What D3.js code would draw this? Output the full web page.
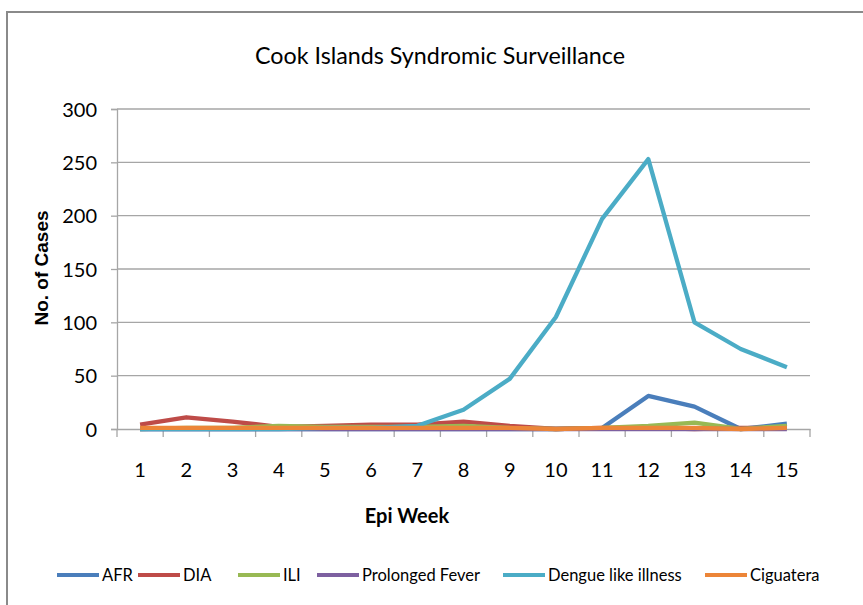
<!DOCTYPE html>
<html><head><meta charset="utf-8">
<script src="https://cdn.jsdelivr.net/npm/d3@7"></script>
<style>body{margin:0;background:#fff}svg{display:block}</style>
</head><body>
<script>
const weeks = [1,2,3,4,5,6,7,8,9,10,11,12,13,14,15];
const yTicks = [0,50,100,150,200,250,300];
const seriesNames = ["AFR","DIA","ILI","Prolonged Fever","Dengue like illness","Ciguatera"];
const afr = [0,0,0,0,0,0,0,0,0,0,1,31,21,0,5];
const dia = [4,11,7,2,3,4,4,7,3,0,1,1,0,1,1];
const ili = [0,1,1,3,2,2,2,3,1,0,1,3,6,0,3];
const prolonged = [0,0,0,0,0,0,0,0,0,0,0,0,0,0,0];
const dengue = [0,0,0,0,1,1,3,18,47,105,197,253,100,75,58];
const ciguatera = [1,1,1,1,1,1,1,1,1,0,1,1,1,0,1];
const colors = ["#4A7EBB","#BE4B48","#98B954","#7D60A0","#4BACC6","#EC8538"];
const seriesData = [afr,dia,ili,prolonged,dengue,ciguatera];

const W=863,H=605;
const svg=d3.select("body").append("svg").attr("width",W).attr("height",H);
const font="Lato,'Noto Sans',sans-serif";
svg.append("rect").attr("x",7).attr("y",12).attr("width",900).attr("height",700)
  .attr("fill","#fff").attr("stroke","#8a8a8a").attr("stroke-width",2);

const x=d3.scaleBand().domain(weeks).range([117,810]);
const y=d3.scaleLinear().domain([0,300]).range([429,109]);

svg.append("text").attr("x",440).attr("y",64).attr("text-anchor","middle")
  .attr("font-family",font).attr("font-size",24).attr("fill","#000")
  .attr("textLength",370).attr("lengthAdjust","spacingAndGlyphs")
  .text("Cook Islands Syndromic Surveillance");

// gridlines
svg.append("g").selectAll("line").data(yTicks.filter(d=>d>0)).join("line")
  .attr("x1",117).attr("x2",810).attr("y1",d=>y(d)).attr("y2",d=>y(d))
  .attr("stroke","#a6a6a6").attr("stroke-width",1.3);

const yAxis=svg.append("g").attr("transform","translate(117,0)")
  .call(d3.axisLeft(y).tickValues(yTicks).tickSize(6).tickPadding(14));
yAxis.select(".domain").attr("stroke","#a6a6a6").attr("stroke-width",1.3);
yAxis.selectAll(".tick line").attr("stroke","#a6a6a6").attr("stroke-width",1.3);
yAxis.selectAll("text").attr("font-family",font).attr("font-size",20).attr("fill","#000")
  .attr("dy","0.36em");

const xAxis=svg.append("g").attr("transform","translate(0,429)")
  .call(d3.axisBottom(x).tickSize(0).tickPadding(34));
xAxis.select(".domain").attr("stroke","#a6a6a6").attr("stroke-width",1.3);
xAxis.selectAll("text").attr("font-family",font).attr("font-size",20).attr("fill","#000");
// boundary ticks
const bounds=weeks.map(w=>x(w)).concat([x(15)+x.bandwidth()]);
svg.append("g").selectAll("line").data(bounds).join("line")
  .attr("x1",d=>d).attr("x2",d=>d).attr("y1",429).attr("y2",437)
  .attr("stroke","#a6a6a6").attr("stroke-width",1.3);

svg.append("text").attr("x",407).attr("y",523).attr("text-anchor","middle")
  .attr("font-family",font).attr("font-weight","bold").attr("font-size",20)
  .text("Epi Week");
svg.append("text").attr("transform","translate(48,268) rotate(-90)").attr("text-anchor","middle")
  .attr("font-family","'Liberation Sans',Arial,sans-serif").attr("font-weight","bold").attr("font-size",19)
  .text("No. of Cases");

const line=d3.line().x((d,i)=>x(weeks[i])+x.bandwidth()/2).y(d=>y(d));
svg.append("g").selectAll("path").data(seriesData).join("path")
  .attr("d",d=>line(d)).attr("fill","none").attr("stroke",(d,i)=>colors[i])
  .attr("stroke-width",4.3).attr("stroke-linejoin","round");

// legend
const legX=[57,138,238,317,503,705];
const lg=svg.append("g").selectAll("g").data(seriesNames).join("g")
  .attr("transform",(d,i)=>`translate(${legX[i]},575)`);
lg.append("line").attr("x1",0).attr("x2",42).attr("stroke",(d,i)=>colors[i]).attr("stroke-width",4);
lg.append("text").attr("x",45).attr("y",6).attr("font-family",font).attr("font-size",16.5)
  .text(d=>d);
</script>
</body></html>
